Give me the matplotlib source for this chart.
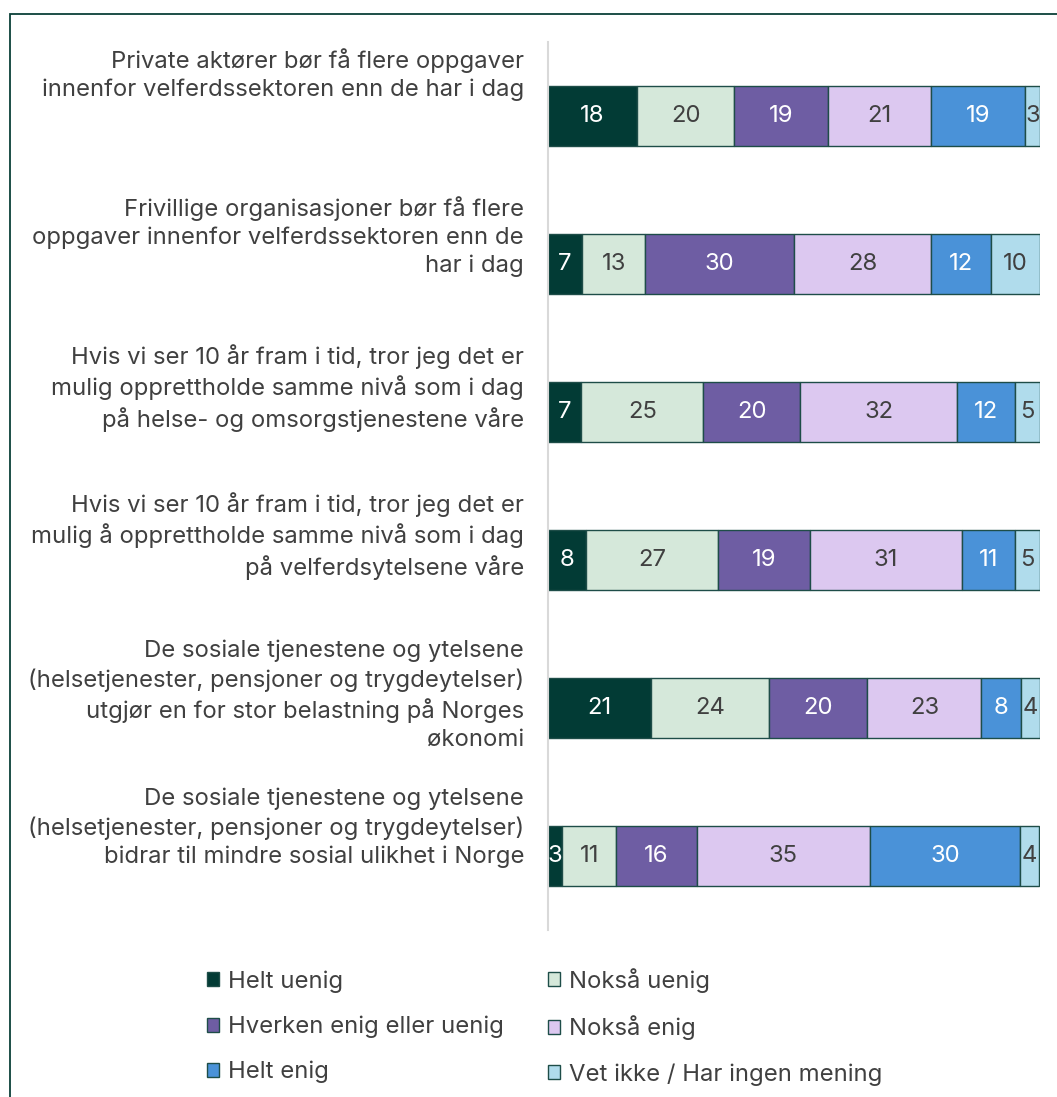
import matplotlib
matplotlib.use("Agg")
import matplotlib.pyplot as plt
from matplotlib.patches import Rectangle
from matplotlib.transforms import blended_transform_factory, offset_copy

plt.rcParams['font.family'] = ['Inter', 'DejaVu Sans']

categories = [
    "Private aktører bør få flere oppgaver\ninnenfor velferdssektoren enn de har i dag",
    "Frivillige organisasjoner bør få flere\noppgaver innenfor velferdssektoren enn de\nhar i dag",
    "Hvis vi ser 10 år fram i tid, tror jeg det er\nmulig opprettholde samme nivå som i dag\npå helse- og omsorgstjenestene våre",
    "Hvis vi ser 10 år fram i tid, tror jeg det er\nmulig å opprettholde samme nivå som i dag\npå velferdsytelsene våre",
    "De sosiale tjenestene og ytelsene\n(helsetjenester, pensjoner og trygdeytelser)\nutgjør en for stor belastning på Norges\nøkonomi",
    "De sosiale tjenestene og ytelsene\n(helsetjenester, pensjoner og trygdeytelser)\nbidrar til mindre sosial ulikhet i Norge",
]

series_names = ["Helt uenig", "Nokså uenig", "Hverken enig eller uenig",
                "Nokså enig", "Helt enig", "Vet ikke / Har ingen mening"]

helt_uenig = [18.0, 6.9, 6.8, 7.8, 20.9, 2.9]
noksa_uenig = [19.9, 12.9, 24.7, 26.7, 24.0, 11.0]
hverken = [19.0, 30.2, 19.8, 18.8, 20.0, 16.3]
noksa_enig = [21.0, 27.9, 31.8, 30.8, 23.2, 35.3]
helt_enig = [19.0, 12.2, 11.8, 10.9, 8.0, 30.4]
vet_ikke = [3.1, 9.9, 5.0, 5.0, 3.9, 3.9]

series = [helt_uenig, noksa_uenig, hverken, noksa_enig, helt_enig, vet_ikke]
colors = ["#023B35", "#D5E8DA", "#6E5DA3", "#DCC8F0", "#4A92D8", "#B0DCEC"]
text_colors = ["white", "#404040", "white", "#404040", "white", "#404040"]
edge = "#1E4D48"

FS = 17.2
W, H = 1057, 1097
fig = plt.figure(figsize=(W / 100, H / 100), dpi=100)

# outer border (cropped at right and bottom)
fig.patches.append(Rectangle((10 / W, -0.05), 1.2, 1 - 14 / H + 0.05,
                             transform=fig.transFigure, fill=False,
                             edgecolor="#0B4038", linewidth=1.3, zorder=0))

ax = fig.add_axes([548 / W, 1 - 930 / H, 492 / W, 888 / H])
ypos = list(range(len(categories)))
left = [0.0] * len(categories)
handles = []
for name, vals, col, tc in zip(series_names, series, colors, text_colors):
    bars = ax.barh(ypos, vals, left=left, height=0.405, color=col,
                   edgecolor=edge, linewidth=1.0, label=name)
    handles.append(bars)
    for y, v, l in zip(ypos, vals, left):
        ax.text(l + v / 2, y, f"{v:.0f}", ha="center", va="center",
                color=tc, fontsize=FS)
    left = [a + b for a, b in zip(left, vals)]

ax.set_xlim(0, 100)
ax.set_ylim(len(categories) - 0.5, -0.5)
ax.set_xticks([])
ax.set_yticks([])
for s in ["top", "right", "bottom"]:
    ax.spines[s].set_visible(False)
ax.spines["left"].set_color("#D9D9D9")
ax.spines["left"].set_linewidth(1.5)

trans = blended_transform_factory(fig.transFigure, ax.transData)
trans = offset_copy(trans, fig=fig, x=0, y=-6, units="dots")
for y, lab in zip(ypos, categories):
    ax.text(524 / W, y - 0.5, lab, transform=trans, ha="right", va="top",
            fontsize=FS, color="#404040", linespacing=1.33)

# legend is column-major: reorder so rows read left to right
lh = [handles[i] for i in [0, 2, 4, 1, 3, 5]]
ll = [series_names[i] for i in [0, 2, 4, 1, 3, 5]]
leg = fig.legend(lh, ll, ncol=2, loc="upper left",
                 bbox_to_anchor=(207 / W, 1 - 968 / H), frameon=False,
                 fontsize=FS, handlelength=0.52, handleheight=0.52,
                 handletextpad=0.35, columnspacing=1.85, labelspacing=0.95,
                 borderpad=0, borderaxespad=0)
for t in leg.get_texts():
    t.set_color("#404040")

fig.savefig("out.png", dpi=100, facecolor="white")
